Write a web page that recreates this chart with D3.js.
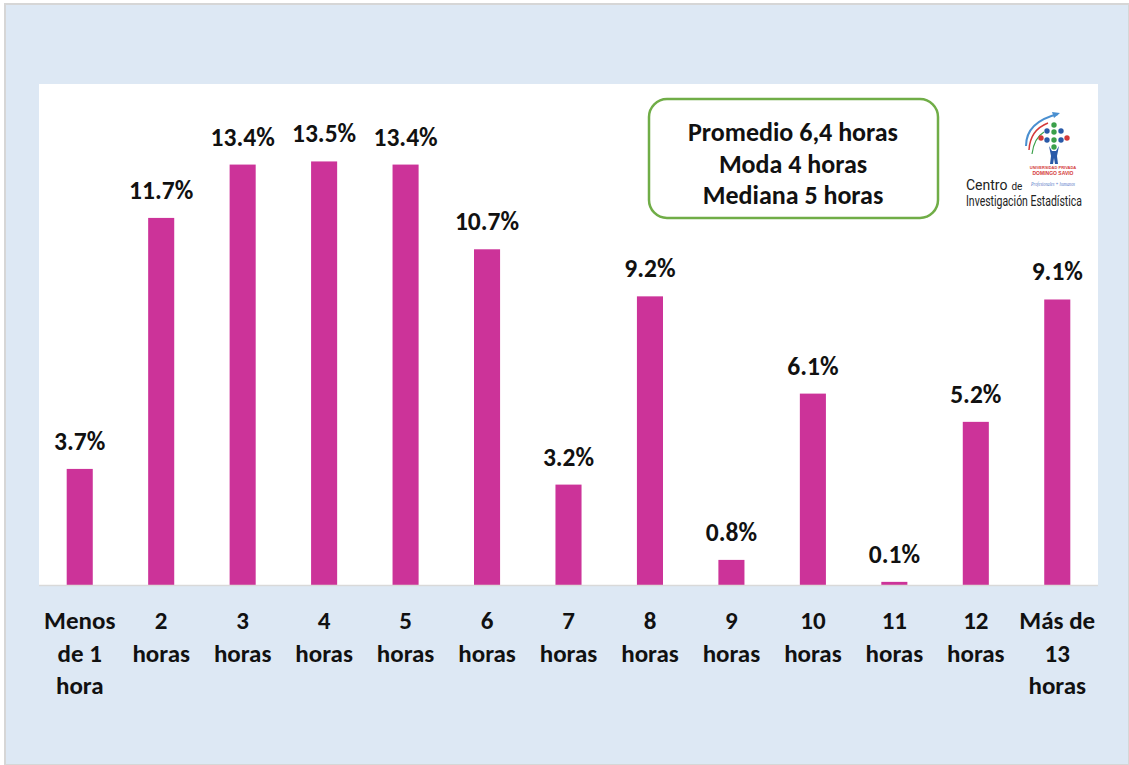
<!DOCTYPE html>
<html>
<head>
<meta charset="utf-8">
<script src="https://cdn.jsdelivr.net/npm/d3@7"></script>
<style>
  body { margin: 0; background: #fff; }
  svg { display: block; }
</style>
</head>
<body>
<script>
// data
var categories = ["Menos de 1 hora", "2 horas", "3 horas", "4 horas", "5 horas", "6 horas",
  "7 horas", "8 horas", "9 horas", "10 horas", "11 horas", "12 horas", "Más de 13 horas"];
var catLines = [["Menos", "de 1", "hora"], ["2", "horas"], ["3", "horas"], ["4", "horas"],
  ["5", "horas"], ["6", "horas"], ["7", "horas"], ["8", "horas"], ["9", "horas"],
  ["10", "horas"], ["11", "horas"], ["12", "horas"], ["Más de", "13", "horas"]];
var values = [3.7, 11.7, 13.4, 13.5, 13.4, 10.7, 3.2, 9.2, 0.8, 6.1, 0.1, 5.2, 9.1];
var statsLines = ["Promedio 6,4 horas", "Moda 4 horas", "Mediana 5 horas"];

var W = 1129, H = 765;
var font = "Carlito, 'Open Sans', sans-serif";

var svg = d3.select("body").append("svg")
    .attr("width", W)
    .attr("height", H);

// outer frame
svg.append("rect")
    .attr("x", 5).attr("y", 4)
    .attr("width", W - 5).attr("height", H - 4)
    .attr("fill", "#dde8f4")
    .attr("stroke", "#d6d6d6")
    .attr("stroke-width", 2);

// plot area
var plot = {left: 39, right: 1098, top: 84, bottom: 585};
svg.append("rect")
    .attr("x", plot.left).attr("y", plot.top)
    .attr("width", plot.right - plot.left)
    .attr("height", plot.bottom - plot.top)
    .attr("fill", "#ffffff");

var x = d3.scaleBand()
    .domain(categories)
    .range([plot.left, plot.right])
    .paddingInner(0.68)
    .paddingOuter(0.34);

var y = d3.scaleLinear()
    .domain([0, 16])
    .range([plot.bottom, 83]);

// bars
svg.selectAll(".bar")
    .data(values)
  .enter().append("rect")
    .attr("class", "bar")
    .attr("x", function(d, i) { return x(categories[i]); })
    .attr("y", function(d) { return y(d); })
    .attr("width", x.bandwidth())
    .attr("height", function(d) { return y(0) - y(d); })
    .attr("fill", "#cc3399");

// baseline
svg.append("line")
    .attr("x1", plot.left).attr("x2", plot.right)
    .attr("y1", plot.bottom + 0.5).attr("y2", plot.bottom + 0.5)
    .attr("stroke", "#d9d9d9")
    .attr("stroke-width", 1.5);

// value labels
svg.selectAll(".val")
    .data(values)
  .enter().append("text")
    .attr("class", "val")
    .attr("x", function(d, i) { return x(categories[i]) + x.bandwidth() / 2; })
    .attr("y", function(d) { return y(d) - 19; })
    .attr("text-anchor", "middle")
    .attr("font-family", font)
    .attr("font-weight", "bold")
    .attr("font-size", 25.5)
    .attr("fill", "#111")
    .text(function(d) { return d.toFixed(1) + "%"; });

// category labels
var xl = svg.selectAll(".xl")
    .data(catLines)
  .enter().append("text")
    .attr("class", "xl")
    .attr("text-anchor", "middle")
    .attr("font-family", font)
    .attr("font-weight", "bold")
    .attr("font-size", 25)
    .attr("fill", "#111")
    .attr("transform", function(d, i) {
      return "translate(" + (x(categories[i]) + x.bandwidth() / 2) + ",629)";
    });

xl.selectAll("tspan")
    .data(function(d) { return d; })
  .enter().append("tspan")
    .attr("x", 0)
    .attr("y", function(d, j) { return j * 32.5; })
    .text(function(d) { return d; });

// stats box
svg.append("rect")
    .attr("x", 649).attr("y", 99)
    .attr("width", 289).attr("height", 119)
    .attr("rx", 18).attr("ry", 18)
    .attr("fill", "#fff")
    .attr("stroke", "#70ad47")
    .attr("stroke-width", 2.5);

svg.append("g").selectAll("text")
    .data(statsLines)
  .enter().append("text")
    .attr("x", 793)
    .attr("y", function(d, i) { return 141 + i * 31.5; })
    .attr("text-anchor", "middle")
    .attr("font-family", font)
    .attr("font-weight", "bold")
    .attr("font-size", 26)
    .attr("fill", "#111")
    .text(function(d) { return d; });

// logo (rough sketch)
var logo = svg.append("g");
logo.append("path")
    .attr("d", "M1026,146 Q1026,122 1058,114")
    .attr("fill", "none").attr("stroke", "#4a8fd0").attr("stroke-width", 2);
logo.append("path")
    .attr("d", "M1052,112 L1060,113 L1054,118 Z")
    .attr("fill", "#4a8fd0");
logo.append("path")
    .attr("d", "M1029,150 Q1030,130 1048,123")
    .attr("fill", "none").attr("stroke", "#d43a3a").attr("stroke-width", 1.5);
logo.append("path")
    .attr("d", "M1032,154 Q1034,138 1044,132")
    .attr("fill", "none").attr("stroke", "#3aa04a").attr("stroke-width", 1.2);
var dots = [[1054,125,"#3aa04a"],[1047,131,"#2a5aa8"],[1054,132,"#3aa04a"],[1061,131,"#2a5aa8"],
  [1041,138,"#d43a3a"],[1047,140,"#2a5aa8"],[1054,140,"#3aa04a"],[1061,140,"#2a5aa8"],[1067,138,"#d43a3a"],
  [1054,147,"#3aa04a"]];
logo.selectAll("circle").data(dots).enter().append("circle")
    .attr("cx", function(d) { return d[0]; })
    .attr("cy", function(d) { return d[1]; })
    .attr("r", 2.7)
    .attr("fill", function(d) { return d[2]; });
logo.append("path")
    .attr("d", "M1049,146 L1052,151 L1056,151 L1059,146 L1057,156 L1058,164 L1055,164 L1054,158 L1053,164 L1050,164 L1051,156 Z")
    .attr("fill", "#2a5aa8");
logo.append("text")
    .attr("x", 1053).attr("y", 169)
    .attr("text-anchor", "middle")
    .attr("font-family", "'Liberation Sans', sans-serif")
    .attr("font-weight", "bold").attr("font-size", 4)
    .attr("fill", "#d43a3a").text("UNIVERSIDAD PRIVADA");
logo.append("text")
    .attr("x", 1053).attr("y", 175)
    .attr("text-anchor", "middle")
    .attr("font-family", "'Liberation Sans', sans-serif")
    .attr("font-weight", "bold").attr("font-size", 5)
    .attr("fill", "#d43a3a").text("DOMINGO SAVIO");
logo.append("text")
    .attr("x", 1031).attr("y", 186)
    .attr("font-family", "'Liberation Serif', serif")
    .attr("font-style", "italic").attr("font-size", 6)
    .attr("textLength", 44).attr("lengthAdjust", "spacingAndGlyphs")
    .attr("fill", "#5a7ac8").text("Profesionales + humanos");
logo.append("text")
    .attr("x", 966).attr("y", 190)
    .attr("font-family", "'Liberation Sans Narrow', 'Roboto', sans-serif")
    .attr("font-size", 14).attr("fill", "#222")
    .text("Centro")
  .append("tspan")
    .attr("font-size", 10).attr("dx", 4)
    .text("de");
logo.append("text")
    .attr("x", 966).attr("y", 206)
    .attr("font-family", "'Liberation Sans Narrow', 'Roboto', sans-serif")
    .attr("font-size", 14).attr("fill", "#222")
    .attr("textLength", 116).attr("lengthAdjust", "spacingAndGlyphs")
    .text("Investigación Estadística");
</script>
</body>
</html>
